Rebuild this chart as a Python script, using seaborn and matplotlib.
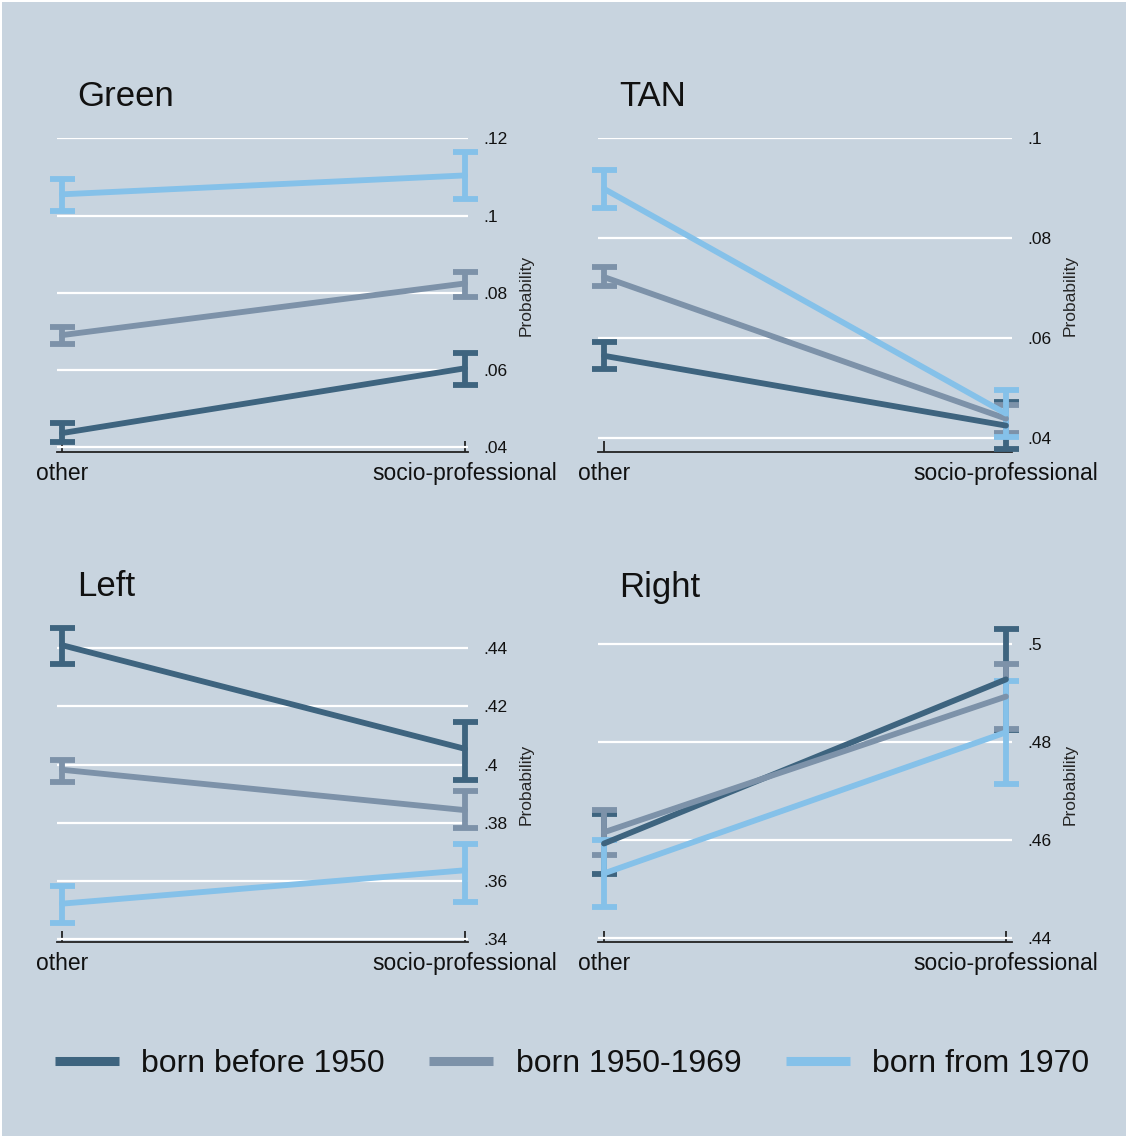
import matplotlib
matplotlib.use("Agg")
import matplotlib.pyplot as plt
from matplotlib.lines import Line2D
from matplotlib.patches import Rectangle
from matplotlib.ticker import FuncFormatter
import numpy as np
import pandas as pd
import seaborn as sns

# ---- data -----------------------------------------------------------------
categories = ["other", "socio-professional"]
cohorts = ["born before 1950", "born 1950-1969", "born from 1970"]
panels = ["Green", "TAN", "Left", "Right"]

# predicted probabilities: [other, socio-professional] per cohort
green_mean = [[0.0436, 0.0604], [0.0690, 0.0824], [0.1055, 0.1104]]
green_lo = [[0.0412, 0.0561], [0.0668, 0.0789], [0.1012, 0.1044]]
green_hi = [[0.0462, 0.0643], [0.0711, 0.0854], [0.1096, 0.1165]]

tan_mean = [[0.0564, 0.0424], [0.0722, 0.0438], [0.0899, 0.0448]]
tan_lo = [[0.0537, 0.0377], [0.0704, 0.0409], [0.0861, 0.0402]]
tan_hi = [[0.0591, 0.0471], [0.0742, 0.0466], [0.0937, 0.0496]]

left_mean = [[0.4411, 0.4054], [0.3982, 0.3843], [0.3521, 0.3636]]
left_lo = [[0.4346, 0.3947], [0.3939, 0.3783], [0.3454, 0.3526]]
left_hi = [[0.4469, 0.4146], [0.4016, 0.3909], [0.3581, 0.3728]]

right_mean = [[0.4593, 0.4928], [0.4616, 0.4893], [0.4532, 0.4820]]
right_lo = [[0.4531, 0.4825], [0.4570, 0.4826], [0.4464, 0.4714]]
right_hi = [[0.4653, 0.5031], [0.4662, 0.4960], [0.4600, 0.4925]]

green_ticks = [0.04, 0.06, 0.08, 0.10, 0.12]
tan_ticks = [0.04, 0.06, 0.08, 0.10]
left_ticks = [0.34, 0.36, 0.38, 0.40, 0.42, 0.44]
right_ticks = [0.44, 0.46, 0.48, 0.50]

green_ylim = (0.0387, 0.1201)
tan_ylim = (0.0371, 0.1001)
left_ylim = (0.3389, 0.4477)
right_ylim = (0.4392, 0.5037)

# ---- style ----------------------------------------------------------------
BG = "#c8d4df"
COLORS = ["#3e647f", "#7d92a9", "#85c1e9"]

sns.set_theme(style="white")
plt.rcParams["font.family"] = ["Liberation Sans", "DejaVu Sans"]

W, H = 1126, 1136
fig = plt.figure(figsize=(W / 100, H / 100), dpi=100)
fig.patch.set_facecolor("white")
fig.patches.append(Rectangle((2 / W, 0), 1, 1 - 2 / H, transform=fig.transFigure,
                             facecolor=BG, edgecolor="none", zorder=-10))

# axes boxes in pixels: left, top, right, bottom
boxes = {
    "Green": (57, 138, 468, 452),
    "TAN": (598, 138, 1012, 452),
    "Left": (57, 626, 468, 942),
    "Right": (598, 626, 1012, 942),
}
xlims = {
    "Green": (-0.0124, 1.0074),
    "TAN": (-0.015, 1.015),
    "Left": (-0.0124, 1.0074),
    "Right": (-0.015, 1.015),
}
title_pos = {"Green": (77, 97), "TAN": (619, 97), "Left": (77, 587), "Right": (619, 587)}

panel_data = {
    "Green": (green_mean, green_lo, green_hi, green_ticks, green_ylim),
    "TAN": (tan_mean, tan_lo, tan_hi, tan_ticks, tan_ylim),
    "Left": (left_mean, left_lo, left_hi, left_ticks, left_ylim),
    "Right": (right_mean, right_lo, right_hi, right_ticks, right_ylim),
}


def prob_fmt(v, _pos):
    s = f"{v:.2f}".rstrip("0").rstrip(".")
    return s[1:] if s.startswith("0") else s


LW = 4.2
for name in panels:
    mean, lo, hi, ticks, ylim = panel_data[name]
    l, t, r, b = boxes[name]
    ax = fig.add_axes([l / W, 1 - b / H, (r - l) / W, (b - t) / H])
    ax.set_facecolor("none")

    rows = []
    for ci, coh in enumerate(cohorts):
        for xi, cat in enumerate(categories):
            rows.append({"x": xi, "cohort": coh, "p": mean[ci][xi],
                         "lo": lo[ci][xi], "hi": hi[ci][xi]})
    df = pd.DataFrame(rows)

    for ci, coh in enumerate(cohorts):
        sub = df[df["cohort"] == coh]
        ax.errorbar(sub["x"], sub["p"],
                    yerr=[sub["p"] - sub["lo"], sub["hi"] - sub["p"]],
                    fmt="none", ecolor=COLORS[ci], elinewidth=LW,
                    capsize=9, capthick=LW, zorder=3 + ci, clip_on=False)
    sns.lineplot(data=df, x="x", y="p", hue="cohort", hue_order=cohorts,
                 palette=COLORS, linewidth=LW, legend=False, ax=ax,
                 solid_capstyle="round", zorder=5)

    ax.set_xlim(*xlims[name])
    ax.set_ylim(*ylim)
    ax.set_xticks([0, 1])
    ax.set_xticklabels(categories)
    ax.set_yticks(ticks)
    ax.yaxis.set_major_formatter(FuncFormatter(prob_fmt))
    ax.yaxis.tick_right()
    ax.yaxis.set_label_position("right")
    ax.set_ylabel("Probability", fontsize=12.5, labelpad=8)
    ax.set_xlabel("")
    ax.grid(axis="y", color="white", linewidth=1.6)
    ax.grid(axis="x", visible=False)
    ax.set_axisbelow(True)
    for side in ["top", "left", "right"]:
        ax.spines[side].set_visible(False)
    ax.spines["bottom"].set_color("#222222")
    ax.spines["bottom"].set_linewidth(1.3)
    ax.tick_params(axis="y", length=0, pad=11, labelsize=12.5, colors="#111111")
    ax.tick_params(axis="x", direction="in", length=8, width=1.3, color="#222222",
                   pad=7, labelsize=16.5, labelcolor="#111111", bottom=True)

    tx, ty = title_pos[name]
    fig.text(tx / W, 1 - ty / H, name, fontsize=25, va="center", ha="left",
             color="#111111")

handles = [Line2D([0], [0], color=c, linewidth=6.5, solid_capstyle="butt")
           for c in COLORS]
fig.legend(handles, cohorts, loc="center", bbox_to_anchor=(572 / W, 1 - 1064 / H),
           ncol=3, frameon=False, fontsize=23, handlelength=2.0,
           handletextpad=0.7, columnspacing=1.4, labelcolor="#111111")

fig.savefig("out.png", dpi=100, facecolor=fig.get_facecolor())
